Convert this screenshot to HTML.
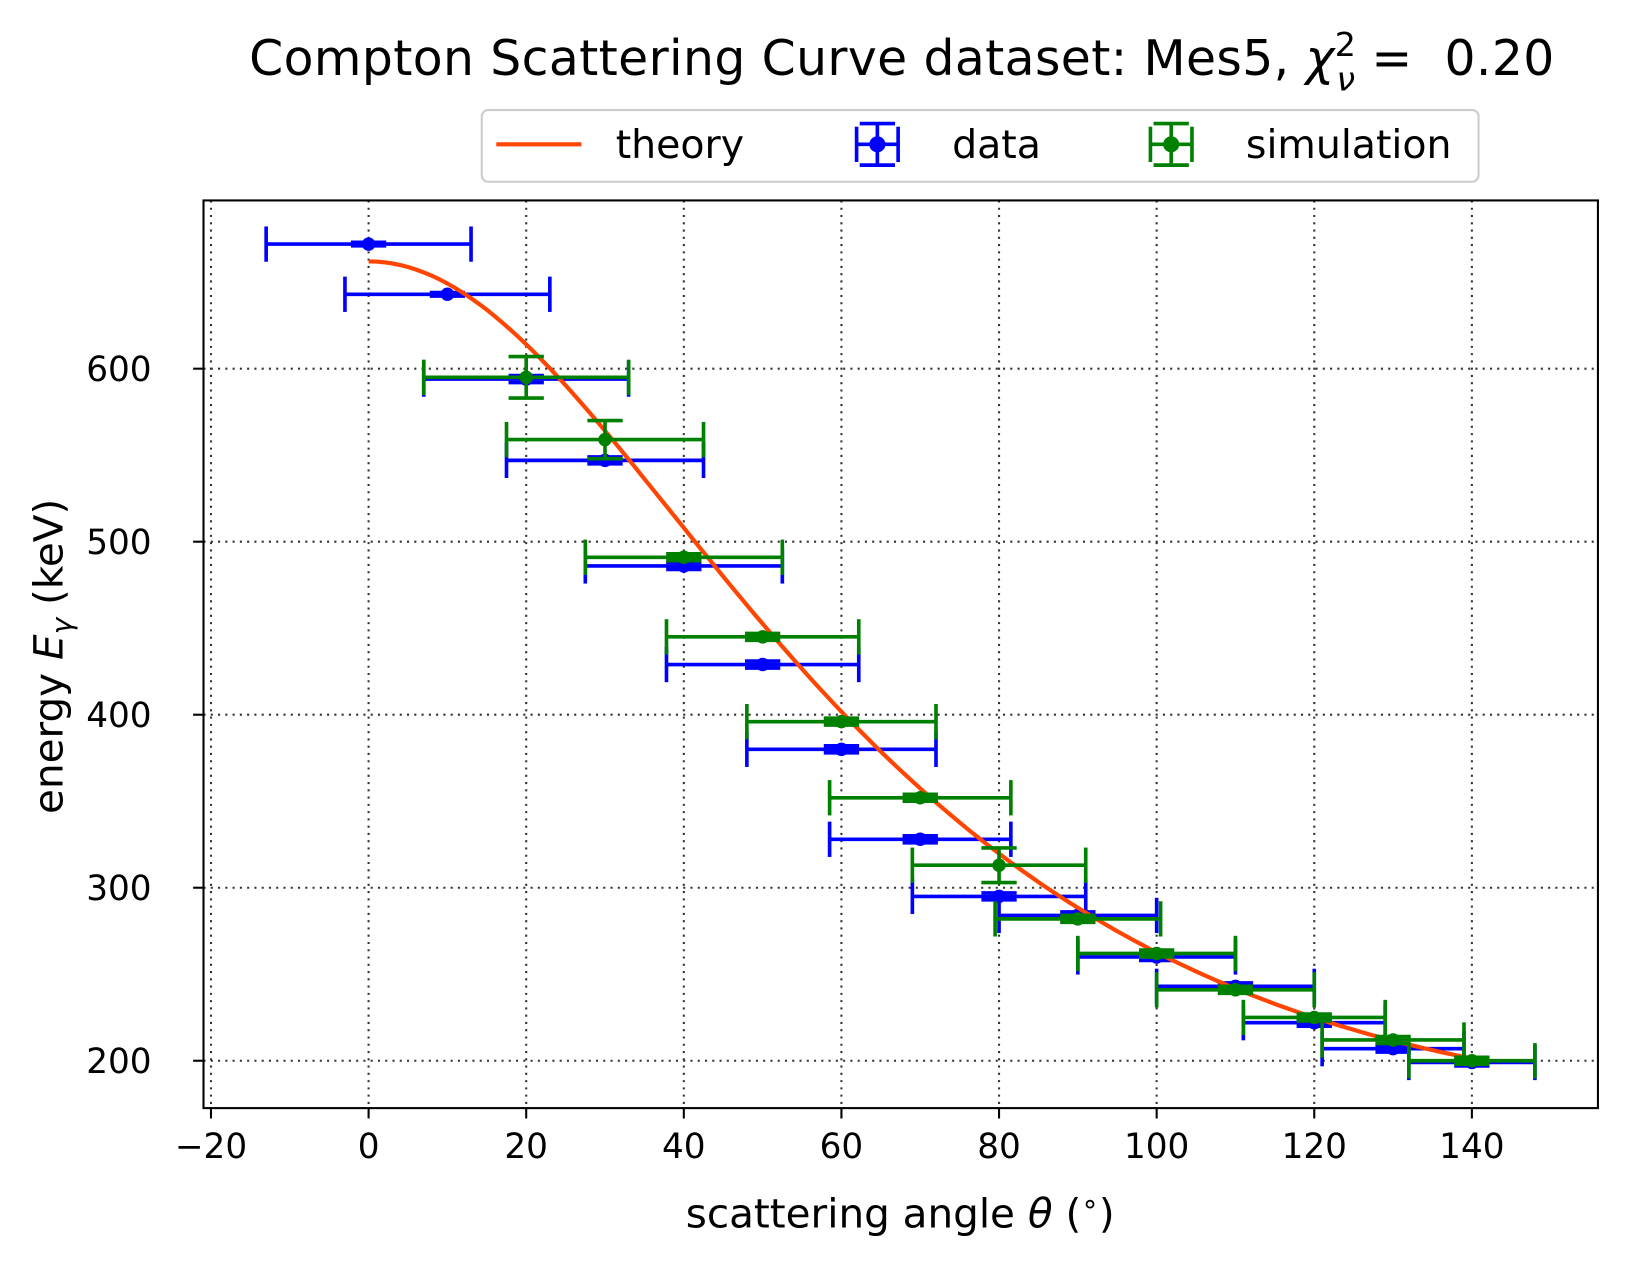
<!DOCTYPE html>
<html><head><meta charset="utf-8"><style>
body{margin:0;background:#fff}
svg text{font-family:"DejaVu Sans","Liberation Sans",sans-serif;fill:#000}
</style></head><body>
<svg id="chart" width="1627" height="1267" viewBox="0 0 1567 1220" preserveAspectRatio="none" xmlns="http://www.w3.org/2000/svg">
<rect width="1567" height="1220" fill="#fff"/>
<g id="grid"></g>
<g id="plot"></g>
<rect x="196" y="193" width="1343" height="874" fill="none" stroke="#000" stroke-width="2"/>
<g id="ticks"></g>
<text x="240" y="72" font-size="47" textLength="1257" lengthAdjust="spacing" xml:space="preserve">Compton Scattering Curve dataset: Mes5, <tspan font-style="italic">χ</tspan><tspan font-size="32" dy="-18">2</tspan><tspan font-size="32" dx="-19" dy="33" font-style="italic">ν</tspan><tspan dy="-15"> =  0.20</tspan></text>
<text x="867" y="1182" font-size="39" text-anchor="middle">scattering angle <tspan font-style="italic">θ</tspan> (<tspan font-size="27" dy="-14">∘</tspan><tspan dy="14">)</tspan></text>
<text transform="translate(60,632) rotate(-90)" font-size="39" text-anchor="middle">energy <tspan font-style="italic">E</tspan><tspan font-size="27" dy="9" font-style="italic">γ</tspan><tspan dy="-9"> (keV)</tspan></text>
<g>
<rect x="464" y="106" width="960" height="69" rx="6" fill="#fff" stroke="#ccc" stroke-width="2"/>
<g><line x1="478" y1="139" x2="560" y2="139" stroke="#ff4500" stroke-width="4"/><text x="593" y="152" font-size="38">theory</text></g>
<g stroke="#0000ff" stroke-width="3.5"><line x1="825" y1="139" x2="865" y2="139"/><line x1="825" y1="122" x2="825" y2="156"/><line x1="865" y1="122" x2="865" y2="156"/><line x1="845" y1="119" x2="845" y2="159"/><line x1="828" y1="119" x2="862" y2="119"/><line x1="828" y1="159" x2="862" y2="159"/><circle cx="845" cy="139" r="6" fill="#0000ff"/><text x="917" y="152" font-size="38" stroke="none">data</text></g>
<g stroke="#008000" stroke-width="3.5"><line x1="1108" y1="139" x2="1148" y2="139"/><line x1="1108" y1="122" x2="1108" y2="156"/><line x1="1148" y1="122" x2="1148" y2="156"/><line x1="1128" y1="119" x2="1128" y2="159"/><line x1="1111" y1="119" x2="1145" y2="119"/><line x1="1111" y1="159" x2="1145" y2="159"/><circle cx="1128" cy="139" r="6" fill="#008000"/><text x="1200" y="152" font-size="38" stroke="none">simulation</text></g>
</g>
</svg>
<script>
const angles=[0,10,20,30,40,50,60,70,80,90,100,110,120,130,140];
const dataE=[672,643,594,547,486,429,380,328,295,284,260,243,222,207,199];
const dataXerr=[13,13,13,12.5,12.5,12.2,12,11.5,11,10,10,10,9,9,8];
const dataYerr=[1,1,2,2,2,2,2,2,2,2,2,2,2,2,2];
const simAngles=[20,30,40,50,60,70,80,90,100,110,120,130,140];
const simE=[595,559,491,445,396,352,313,282,262,241,225,212,200];
const simXerr=[13,12.5,12.5,12.2,12,11.5,11,10.5,10,10,9,9,8];
const simYerr=[12,11,2,2,2,2,10,2,2,2,2,2,2];
const xTicks=[-20,0,20,40,60,80,100,120,140];
const yTicks=[200,300,400,500,600];
const E0=662, me=511;
const X=v=>355+(v)*7.59;
const Y=v=>355+(600-v)*1.666;
const NS='http://www.w3.org/2000/svg';
function mk(tag,attrs,parent){const e=document.createElementNS(NS,tag);for(const k in attrs)e.setAttribute(k,attrs[k]);parent.appendChild(e);return e;}
const grid=document.getElementById('grid'),plot=document.getElementById('plot'),ticks=document.getElementById('ticks');
xTicks.forEach(t=>{
 const g=mk('line',{x1:X(t),x2:X(t),y1:193,y2:1067,stroke:'#333','stroke-width':2,'stroke-dasharray':'2,5'},grid);
 
 
 mk('line',{x1:X(t),x2:X(t),y1:1067,y2:1077,stroke:'#000','stroke-width':2},ticks);
 const tx=mk('text',{x:X(t),y:1115,'font-size':33,'text-anchor':'middle'},ticks);
 tx.textContent=(t<0?'\u2212'+(-t):t);
 
 
});
yTicks.forEach(t=>{
 const g=mk('line',{x1:196,x2:1539,y1:Y(t),y2:Y(t),stroke:'#333','stroke-width':2,'stroke-dasharray':'2,5'},grid);
 
 
 mk('line',{x1:186,x2:196,y1:Y(t),y2:Y(t),stroke:'#000','stroke-width':2},ticks);
 const tx=mk('text',{x:146,y:Y(t)+12,'font-size':33,'text-anchor':'end'},ticks);
 tx.textContent=t;
 
 
});
function series(xs,ys,xe,ye,color,name){
 xs.forEach((a,i)=>{
  const g=mk('g',{stroke:color,'stroke-width':3.5},plot);
  
  
  const cx=X(a),cy=Y(ys[i]),x0=X(a-xe[i]),x1=X(a+xe[i]),y0=Y(ys[i]+ye[i]),y1=Y(ys[i]-ye[i]);
  mk('line',{x1:x0,x2:x1,y1:cy,y2:cy},g);
  mk('line',{x1:x0,x2:x0,y1:cy-17,y2:cy+17},g);
  mk('line',{x1:x1,x2:x1,y1:cy-17,y2:cy+17},g);
  mk('line',{x1:cx,x2:cx,y1:y0,y2:y1},g);
  mk('line',{x1:cx-17,x2:cx+17,y1:y0,y2:y0},g);
  mk('line',{x1:cx-17,x2:cx+17,y1:y1,y2:y1},g);
  mk('circle',{cx:cx,cy:cy,r:6.5,fill:color,stroke:'none'},g);
 });
}
series(angles,dataE,dataXerr,dataYerr,'#0000ff','data');
let d='';
for(let a=0;a<=140;a+=1){const e=E0/(1+(E0/me)*(1-Math.cos(a*Math.PI/180)));d+=(a?'L':'M')+X(a).toFixed(1)+','+Y(e).toFixed(1);}
const th=mk('path',{d:d,fill:'none',stroke:'#ff4500','stroke-width':4},plot);


series(simAngles,simE,simXerr,simYerr,'#008000','simulation');
</script>
</body></html>
